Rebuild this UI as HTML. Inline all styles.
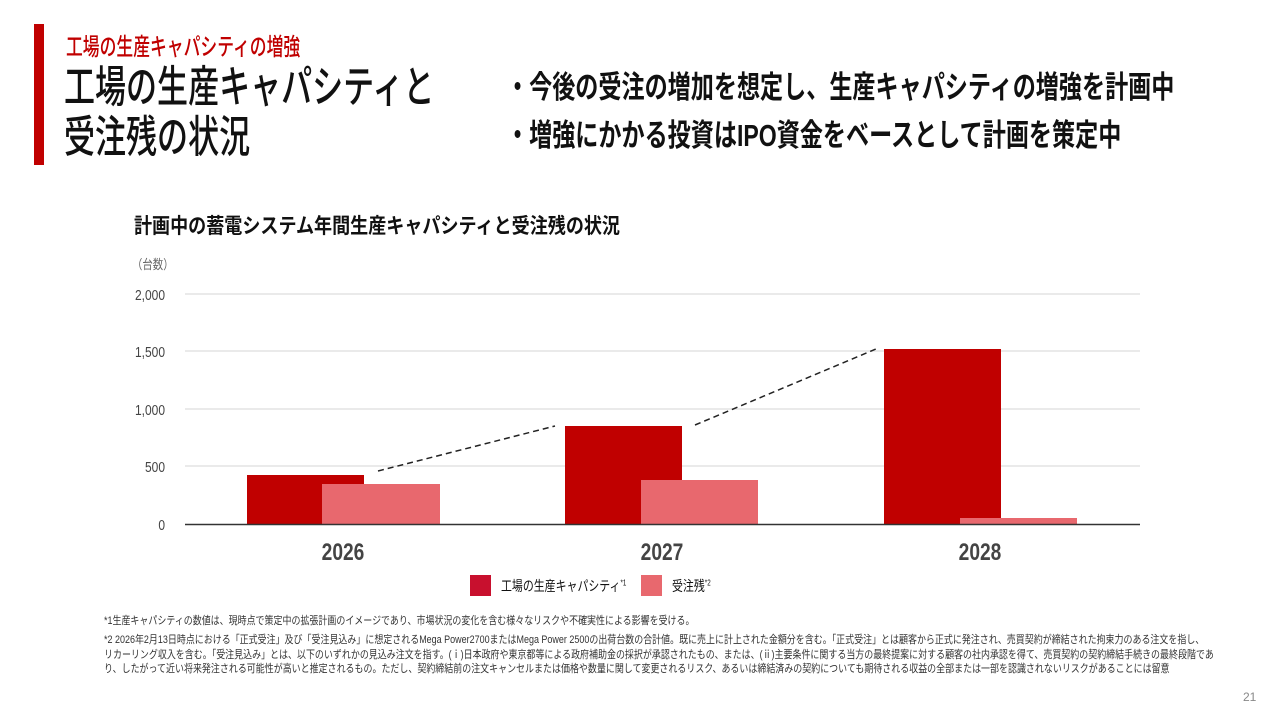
<!DOCTYPE html>
<html><head><meta charset="utf-8"><style>
*{margin:0;padding:0;box-sizing:border-box}
body{width:1280px;height:720px;background:#fff;position:relative;overflow:hidden;font-family:"Liberation Sans","Noto Sans CJK JP",sans-serif;color:#111}
.t{position:absolute;white-space:nowrap;transform-origin:0 0}
</style></head><body>
<div style="position:absolute;left:34px;top:24px;width:10px;height:141px;background:#c00000"></div>
<div class="t" style="left:66px;top:27px;font-size:24px;color:#c00000;font-weight:500;transform:scaleX(0.7)">工場の生産キャパシティの増強</div>
<div class="t" style="left:64px;top:63px;font-size:44px;line-height:50px;font-weight:500;transform:scaleX(0.705)">工場の生産キャパシティと<br>受注残の状況</div>
<div class="t" style="left:506px;top:64px;font-size:31px;line-height:48px;font-weight:700;transform:scaleX(0.745)">・今後の受注の増加を想定し、生産キャパシティの増強を計画中<br>・増強にかかる投資はIPO資金をベースとして計画を策定中</div>
<div class="t" style="left:134px;top:210px;font-size:21px;font-weight:700;transform:scaleX(0.86)">計画中の蓄電システム年間生産キャパシティと受注残の状況</div>
<div class="t" style="left:132px;top:254px;font-size:13px;color:#666;transform:scaleX(0.8)">（台数）</div>
<svg width="1280" height="720" style="position:absolute;left:0;top:0">
<g stroke="#e3e3e3" stroke-width="1.5">
<line x1="185" y1="294" x2="1140" y2="294"/><line x1="185" y1="351" x2="1140" y2="351"/>
<line x1="185" y1="409" x2="1140" y2="409"/><line x1="185" y1="466" x2="1140" y2="466"/></g>
<g font-family="Liberation Sans, sans-serif" font-size="15" fill="#444" text-anchor="end">
<text transform="translate(165,300) scale(0.8,1)">2,000</text><text transform="translate(165,357) scale(0.8,1)">1,500</text><text transform="translate(165,415) scale(0.8,1)">1,000</text><text transform="translate(165,472) scale(0.8,1)">500</text><text transform="translate(165,530) scale(0.8,1)">0</text></g>
<rect x="247" y="475" width="117" height="49" fill="#c00000"/>
<rect x="322" y="484" width="118" height="40" fill="#e8686e"/>
<rect x="565" y="426" width="117" height="98" fill="#c00000"/>
<rect x="641" y="480" width="117" height="44" fill="#e8686e"/>
<rect x="884" y="349" width="117" height="175" fill="#c00000"/>
<rect x="960" y="518" width="117" height="6" fill="#e8686e"/>
<line x1="185" y1="524.5" x2="1140" y2="524.5" stroke="#333" stroke-width="1.5"/>
<g stroke="#222" stroke-width="1.5" stroke-dasharray="6,4">
<line x1="378" y1="471" x2="555" y2="426"/><line x1="695" y1="425" x2="876" y2="349"/></g>
<g font-family="Liberation Sans, sans-serif" font-size="24" font-weight="bold" fill="#444" text-anchor="middle">
<text transform="translate(343,560) scale(0.8,1)">2026</text><text transform="translate(662,560) scale(0.8,1)">2027</text><text transform="translate(980,560) scale(0.8,1)">2028</text></g>
<rect x="470" y="575" width="21" height="21" fill="#c8102e"/>
<rect x="641" y="575" width="21" height="21" fill="#e8686e"/>
</svg>
<div class="t" style="left:501px;top:576px;font-size:14px;transform:scaleX(0.78)">工場の生産キャパシティ<sup style="font-size:8px">*1</sup></div>
<div class="t" style="left:672px;top:576px;font-size:14px;transform:scaleX(0.78)">受注残<sup style="font-size:8px">*2</sup></div>
<div class="t" style="left:104px;top:614px;font-size:11px;line-height:14px;color:#333;transform:scaleX(0.816)">*1生産キャパシティの数値は、現時点で策定中の拡張計画のイメージであり、市場状況の変化を含む様々なリスクや不確実性による影響を受ける。</div>
<div class="t" style="left:104px;top:633px;font-size:11px;line-height:14.5px;color:#333;transform:scaleX(0.816)">*2 2026年2月13日時点における「正式受注」及び「受注見込み」に想定されるMega Power2700またはMega Power 2500の出荷台数の合計値。既に売上に計上された金額分を含む。「正式受注」とは顧客から正式に発注され、売買契約が締結された拘束力のある注文を指し、<br>リカーリング収入を含む。「受注見込み」とは、以下のいずれかの見込み注文を指す。(ⅰ)日本政府や東京都等による政府補助金の採択が承認されたもの、または、(ⅱ)主要条件に関する当方の最終提案に対する顧客の社内承認を得て、売買契約の契約締結手続きの最終段階であ<br>り、したがって近い将来発注される可能性が高いと推定されるもの。ただし、契約締結前の注文キャンセルまたは価格や数量に関して変更されるリスク、あるいは締結済みの契約についても期待される収益の全部または一部を認識されないリスクがあることには留意</div>
<div class="t" style="left:1243px;top:690px;font-size:12px;color:#888">21</div>
</body></html>
